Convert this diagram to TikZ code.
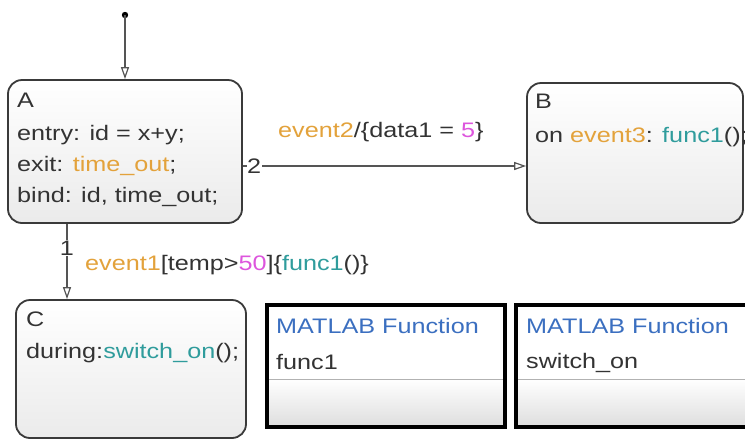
\documentclass[tikz,border=0pt]{standalone}
\usepackage{fontspec}
\setmainfont{Liberation Sans}[FakeStretch=1.2]
\usetikzlibrary{arrows.meta}
\definecolor{txt}{HTML}{333333}
\definecolor{evt}{HTML}{E3A23B}
\definecolor{fnc}{HTML}{2F9C9C}
\definecolor{num}{HTML}{DD55DD}
\definecolor{mlb}{HTML}{3B6FC0}
\definecolor{edgec}{HTML}{3A3A3A}
\definecolor{linec}{HTML}{555555}
\tikzset{
  statebox/.style={draw=edgec, line width=1.8pt, rounded corners=14pt, top color=white, bottom color=black!8, inner sep=0pt},
  fnbox/.style={draw=black, line width=3.5pt, inner sep=0pt, minimum width=238pt, minimum height=122pt},
  txtnode/.style={anchor=base west, inner sep=0pt, text=txt, font=\fontsize{21}{25}\selectfont},
  trans/.style={draw=linec, line width=1.4pt, -{Triangle[open,length=12pt,width=8pt,line width=1.2pt]}},
  numlabel/.style={fill=white, inner sep=1pt, text=txt, font=\fontsize{21}{25}\selectfont},
}
\begin{document}
\begin{tikzpicture}[x=1pt,y=-1pt]
\useasboundingbox (0,0) rectangle (745,440);
\fill[white] (0,0) rectangle (745,440);
\clip (0,0) rectangle (745,440);

% states
\node[statebox, minimum width=234pt, minimum height=143pt] (A) at (125,151.5) {};
\node[statebox, minimum width=216pt, minimum height=140pt] (B) at (635,153) {};
\node[statebox, minimum width=230pt, minimum height=138pt] (C) at (131,369) {};

% initial transition
\fill[black] (125,15) circle (3.2pt);
\coordinate (init) at (125,15);
\draw[trans] (init) -- (A.north);

% A -> B
\draw[trans] ([yshift=-14.5pt]A.east) -- ([yshift=-13pt]B.west)
  node[numlabel, pos=0, anchor=west, xshift=3pt, inner sep=0.5pt] (n2) {2};

% A -> C
\coordinate (acs) at ([xshift=-58pt]A.south);
\draw[trans] (acs) -- (acs |- C.north)
  node[numlabel, pos=0.32, inner sep=0.5pt] (n1) {1};

% text in A
\node[txtnode] (Aname) at (17,107) {A};
\node[txtnode] (Aentry) at (17,140) {entry: id = x+y;};
\node[txtnode] (Aexit) at (17,171) {exit: \textcolor{evt}{time\_out};};
\node[txtnode] (Abind) at (17,202) {bind: id, time\_out;};

% text in B
\node[txtnode] (Bname) at (535,108) {B};
\node[txtnode] (Bon) at (535,142) {on \textcolor{evt}{event3}: \textcolor{fnc}{func1}();};

% text in C
\node[txtnode] (Cname) at (26,326) {C};
\node[txtnode] (Cdur) at (26,358) {during:\textcolor{fnc}{switch\_on}();};

% transition labels
\node[txtnode] (l2) at (278,137) {\textcolor{evt}{event2}/\{data1 = \textcolor{num}{5}\}};
\node[txtnode] (l1) at (85,270) {\textcolor{evt}{event1}[temp>\textcolor{num}{50}]\{\textcolor{fnc}{func1}()\}};

% MATLAB function boxes
\coordinate (sep) at (0,379);
\node[fnbox] (F1) at (386,366) {};
\node[fnbox] (F2) at (635,366) {};
\shade[top color=white, bottom color=black!13] ([xshift=1.75pt]F1.west |- sep) rectangle ([xshift=-1.75pt,yshift=1.75pt]F1.south east);
\shade[top color=white, bottom color=black!13] ([xshift=1.75pt]F2.west |- sep) rectangle ([xshift=-1.75pt,yshift=1.75pt]F2.south east);
\draw[black!30, line width=0.8pt] ([xshift=1.75pt]F1.west |- sep) -- ([xshift=-1.75pt]F1.east |- sep);
\draw[black!30, line width=0.8pt] ([xshift=1.75pt]F2.west |- sep) -- ([xshift=-1.75pt]F2.east |- sep);
\node[fnbox] at (F1) {};
\node[fnbox] at (F2) {};

\node[txtnode, text=mlb] (F1t) at (276,333) {MATLAB Function};
\node[txtnode] (F1n) at (276,369) {func1};
\node[txtnode, text=mlb] (F2t) at (526,333) {MATLAB Function};
\node[txtnode] (F2n) at (526,368) {switch\_on};
\end{tikzpicture}
\end{document}
